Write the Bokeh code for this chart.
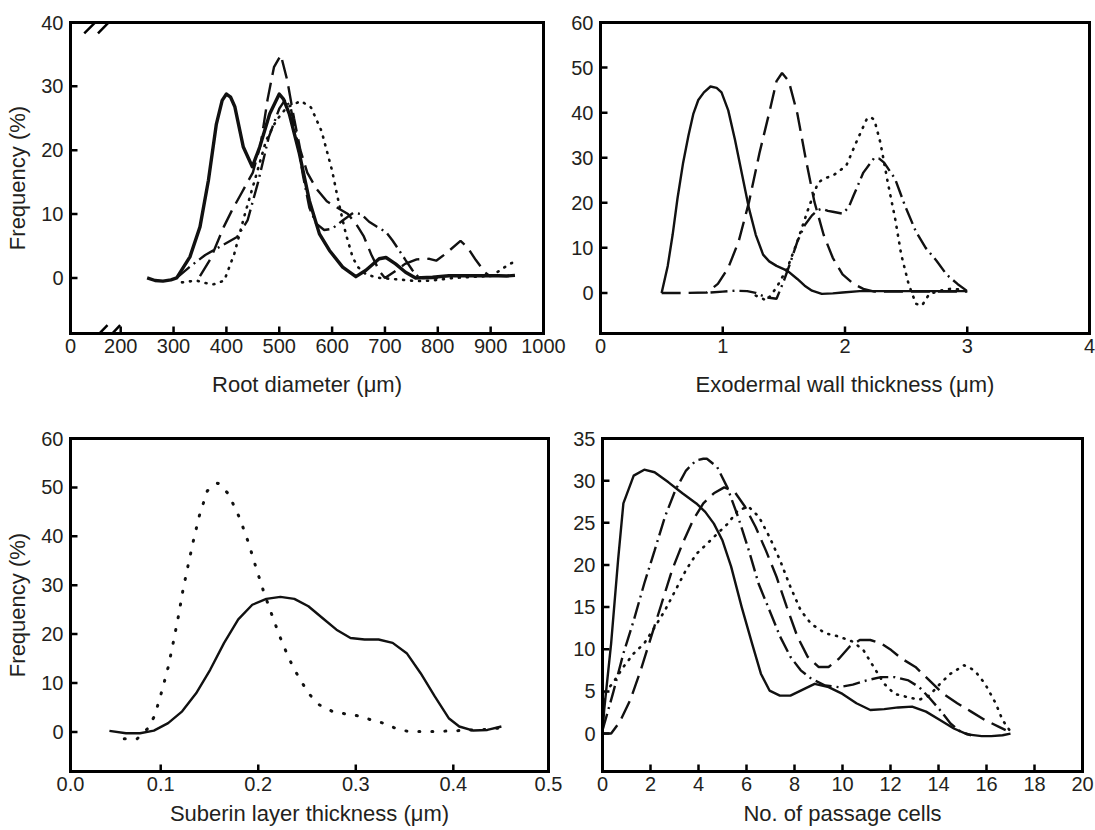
from bokeh.plotting import figure
from bokeh.layouts import row, column
from bokeh.models import Range1d, FixedTicker, CustomJSTickFormatter, Arrow, LinearAxis
from bokeh.embed import file_html
from bokeh.resources import INLINE

# ---------------- Panel 1: root diameter ----------------
rd_x_ticks = [105, 200, 300, 400, 500, 600, 700, 800, 900, 1000]
rd_x_labels = ["0", "200", "300", "400", "500", "600", "700", "800", "900", "1000"]
rd_y_ticks = [0, 10, 20, 30, 40]

rd_solid_x = [250, 265, 280, 295, 306, 331, 350, 366, 381, 392, 400, 408, 416, 432, 449, 463, 482, 500, 508, 519,
              538, 557, 576, 595, 620, 645, 664, 689, 702, 720, 739, 758, 790, 821, 884, 915, 930, 946]
rd_solid_y = [0, -0.4, -0.5, -0.3, 0, 3.3, 8, 15.3, 24.1, 27.8, 28.8, 28.3, 26.8, 20.5, 17.4, 20.5, 25.7, 28.8, 28, 25.7,
              19.5, 12.1, 6.9, 4.3, 1.7, 0.2, 1.2, 3.0, 3.2, 2.2, 0.9, 0, 0.1, 0.35, 0.35, 0.35, 0.3, 0.4]

rd_dash_x = [350, 370, 395, 410, 430, 450, 465, 478, 490, 503, 515, 528, 540, 553, 570, 590, 610, 630, 645, 660,
             675, 690, 700, 720, 738, 760, 784, 797, 815, 843, 856, 872, 889, 900]
rd_dash_y = [0.3, 3, 8, 10.5, 13.5, 16.5, 21, 28, 33, 34.9, 31, 25, 20, 16.5, 14, 12, 11, 10, 8.5, 6.5,
             3.5, 1, 0, 1.1, 2.2, 2.9, 3, 2.7, 3.8, 5.8, 4.8, 2.8, 0.9, 0.2]

rd_dashdot_x = [306, 330, 360, 390, 420, 440, 460, 480, 500, 512, 522, 533, 545, 557, 570, 585, 600, 620, 640, 655,
                670, 685, 702, 714, 727, 739, 752, 765, 800]
rd_dashdot_y = [0, 1.7, 3.6, 5, 6.4, 9, 15, 22, 26.5, 28, 26.5, 22, 16, 11, 8.5, 7.5, 7.7, 9, 10.2, 10,
                8.8, 8, 7.2, 5.9, 4.3, 2.8, 1.2, 0, 0]

rd_dot_x = [316, 343, 360, 376, 396, 415, 435, 455, 475, 494, 514, 541, 560, 580, 600, 613, 626, 639, 649, 665,
            690, 720, 760, 790, 830, 870, 900, 916, 936, 945]
rd_dot_y = [-0.7, -0.4, -0.8, -1.0, -0.4, 3.8, 10, 15.7, 21.5, 24.6, 26.7, 27.7, 26.7, 23, 16.8, 11.6, 6.9, 3.2, 1.7, 0.5,
            0, -0.2, -0.5, -0.4, 0, 0.2, 0.3, 1.1, 2.2, 2.5]

# axis-break marks (x start, y start, x end, y end)
rd_break_x0 = [135, 160, 131, 157]
rd_break_y0 = [-10.8, -10.8, 38.3, 38.3]
rd_break_x1 = [175, 199, 171, 196]
rd_break_y1 = [-7.4, -7.4, 41.6, 41.6]

# ---------------- Panel 2: exodermal wall thickness ----------------
ex_x_ticks = [0, 1, 2, 3, 4]
ex_x_labels = ["0", "1", "2", "3", "4"]
ex_y_ticks = [0, 10, 20, 30, 40, 50, 60]

ex_solid_x = [0.5, 0.55, 0.59, 0.63, 0.676, 0.72, 0.76, 0.8, 0.846, 0.9, 0.95, 0.99, 1.045, 1.1, 1.16, 1.215, 1.27,
              1.33, 1.38, 1.44, 1.53, 1.61, 1.67, 1.73, 1.81, 1.9, 1.98, 2.12, 2.41, 2.69, 3.0]
ex_solid_y = [0, 6, 12.9, 21, 28.9, 35, 39.8, 42.8, 44.5, 45.8, 45.5, 44.5, 40.5, 34, 26, 18.7, 12.9,
              8.5, 7, 6, 4.9, 3.1, 1.6, 0.5, -0.2, -0.1, 0.1, 0.4, 0.4, 0.4, 0.4]

ex_dash_x = [0.5, 0.7, 0.87, 0.96, 1.045, 1.13, 1.215, 1.3, 1.385, 1.44, 1.485, 1.54, 1.61, 1.68, 1.75, 1.825, 1.9,
             1.98, 2.07, 2.15, 2.24, 2.4, 2.7, 3.0]
ex_dash_y = [0, 0, 0.1, 2, 5.6, 11.4, 20.2, 31, 40.5, 47, 48.8, 47, 39.8, 29.6, 20.2, 12.9, 7.8,
             4.1, 2, 0.9, 0.3, 0.3, 0.3, 0.3]

ex_dashdot_x = [0.9, 1.0, 1.1, 1.2, 1.27, 1.36, 1.44, 1.5, 1.55, 1.61, 1.67, 1.73, 1.78, 1.81, 1.86, 1.9, 1.98, 2.03,
                2.07, 2.15, 2.24, 2.28, 2.32, 2.41, 2.49, 2.58, 2.66, 2.75, 2.83, 2.92, 3.0]
ex_dashdot_y = [0.1, 0.3, 0.5, 0.4, 0, -1, -1.3, 2.7, 6.5, 11.4, 15, 17.2, 18.4, 18.7, 18.2, 18, 17.6, 19,
                21.6, 26.7, 30, 29.8, 28.9, 25.3, 19.4, 13.6, 10, 7.1, 4.1, 2, 0.4]

ex_dot_x = [1.27, 1.36, 1.44, 1.53, 1.61, 1.7, 1.78, 1.84, 1.9, 2.01, 2.09, 2.18, 2.21, 2.24, 2.29, 2.35, 2.41, 2.46,
            2.52, 2.58, 2.63, 2.69, 2.78, 2.86, 2.97]
ex_dot_y = [-0.6, -1.7, 1.2, 5.6, 11.4, 18.7, 24.5, 25.5, 26, 28.2, 33.3, 38.7, 39, 38.4, 33.3, 24.5, 16.5, 8.5,
            2, -2.4, -2.8, -0.2, 0.5, 0.9, 0.7]

# ---------------- Panel 3: suberin layer thickness ----------------
su_x_ticks = [0.0075, 0.1, 0.2, 0.3, 0.4, 0.4976]
su_x_labels = ["0.0", "0.1", "0.2", "0.3", "0.4", "0.5"]
su_y_ticks = [0, 10, 20, 30, 40, 50, 60]

su_dot_x = [0.0626, 0.0759, 0.087, 0.0939, 0.1014, 0.108, 0.1133, 0.1183, 0.1227, 0.128, 0.1335, 0.1396, 0.1478,
            0.1586, 0.1694, 0.181, 0.1903, 0.198, 0.206, 0.2151, 0.2248, 0.236, 0.2514, 0.2629, 0.2759, 0.2892,
            0.3018, 0.3151, 0.328, 0.3406, 0.354, 0.3799, 0.4061, 0.433, 0.4457]
su_dot_y = [-1.4, -1.4, 0.75, 3.35, 8.5, 13.5, 18.7, 23.8, 28.9, 34, 39.1, 44.2, 49.3,
            50.9, 48.7, 43.7, 38.5, 33.4, 28.4, 23.3, 18.1, 13.1, 7.9, 5.5, 4.2, 3.7,
            3.3, 2.5, 1.8, 0.75, 0.07, 0.07, 0.27, 0.5, 0.75]

su_solid_x = [0.0474, 0.0644, 0.0788, 0.093, 0.1076, 0.122, 0.1363, 0.1507, 0.165, 0.1795, 0.1939, 0.2083, 0.2227,
              0.237, 0.2514, 0.2658, 0.2802, 0.2946, 0.309, 0.3234, 0.3378, 0.3522, 0.3665, 0.381, 0.3953, 0.4061,
              0.4205, 0.4349, 0.4493]
su_solid_y = [0.2, -0.27, -0.27, 0.27, 1.8, 4.2, 7.9, 12.7, 18.2, 23, 26, 27.2, 27.6,
              27.2, 25.7, 23.3, 20.9, 19.2, 18.9, 18.9, 18.2, 16.1, 12, 7.25, 2.8, 1.1,
              0.27, 0.4, 1.1]

# ---------------- Panel 4: passage cells ----------------
pc_x_ticks = [0, 2, 4, 6, 8, 10, 12, 14, 16, 18, 20]
pc_x_labels = [str(v) for v in pc_x_ticks]
pc_y_ticks = [0, 5, 10, 15, 20, 25, 30, 35]

pc_solid_x = [0, 0.07, 0.36, 0.65, 0.87, 1.3, 1.74, 2.17, 2.75, 3.33, 3.91, 4.28, 4.64, 5.0, 5.36, 5.8, 6.23, 6.6,
              6.96, 7.39, 7.83, 8.26, 8.84, 9.42, 10, 10.58, 11.16, 11.74, 12.32, 12.9, 13.48, 14.06, 14.64, 15.2,
              15.8, 16.2, 16.67, 17.0]
pc_solid_y = [0, 2.8, 10.7, 20.6, 27.3, 30.6, 31.3, 31, 29.8, 28.5, 27.3, 26.3, 24.9, 22.9, 19.8, 15, 10.7, 7.1,
              5.1, 4.5, 4.5, 5.1, 5.9, 5.5, 4.7, 3.6, 2.8, 2.9, 3.1, 3.2, 2.6, 1.6, 0.6, -0.1,
              -0.3, -0.3, -0.2, 0]

pc_dash_x = [0, 0.36, 0.72, 1.16, 1.59, 2.03, 2.46, 2.9, 3.33, 3.77, 4.2, 4.64, 5.07, 5.5, 5.94, 6.38, 6.81, 7.25,
             7.68, 8.12, 8.55, 9.0, 9.42, 9.86, 10.29, 10.72, 11.16, 11.6, 12.03, 12.46, 13.04, 13.62, 14.2, 14.78,
             15.36, 15.94, 16.52, 16.8]
pc_dash_y = [0, 0, 1.4, 4, 7.5, 11.5, 15.4, 19.4, 22.5, 25.3, 27.3, 28.5, 29.2, 28.7, 26.9, 24.5, 21.7, 18.6,
             15, 11.5, 9.1, 7.9, 7.9, 8.9, 10.3, 11.1, 11.1, 10.7, 9.9, 8.9, 7.9, 6.3, 4.7, 3.6,
             2.6, 1.6, 0.8, 0.4]

pc_dashdot_x = [0, 0.43, 0.87, 1.3, 1.74, 2.17, 2.6, 3.04, 3.48, 3.9, 4.2, 4.35, 4.78, 5.2, 5.65, 6.1, 6.5, 6.96,
                7.4, 7.83, 8.26, 8.7, 9.28, 9.86, 10.43, 11, 11.6, 12.17, 12.75, 13.2, 13.6, 14.06, 14.5, 14.93,
                15.36]
pc_dashdot_y = [0.4, 4.7, 9.5, 13.4, 17.8, 21.7, 25.7, 28.9, 31.2, 32.4, 32.6, 32.6, 31.6, 29.2, 25.7, 21.7, 17.8,
                14.6, 11.5, 9.1, 7.5, 6.5, 5.7, 5.5, 5.8, 6.3, 6.7, 6.7, 6.3, 5.5, 4.3, 2.8, 1.2, 0.2,
                -0.2]

pc_dot_x = [0, 0.14, 0.5, 0.87, 1.3, 1.74, 2.17, 2.6, 3.04, 3.48, 3.91, 4.35, 4.78, 5.22, 5.65, 6.09, 6.52, 6.96,
            7.39, 7.83, 8.26, 8.7, 9.28, 9.86, 10.43, 10.87, 11.3, 11.74, 12.17, 12.75, 13.19, 13.62, 14.06, 14.5,
            15.07, 15.5, 15.94, 16.38, 16.67, 16.96]
pc_dot_y = [3, 4.9, 6.3, 7.9, 9.5, 10.7, 12.6, 14.6, 17, 19.4, 21.3, 22.5, 23.7, 24.9, 26.5, 26.9, 25.7, 23.3,
            20.6, 17.4, 14.6, 13, 11.9, 11.5, 10.9, 9.9, 7.9, 5.9, 4.7, 4.3, 4, 4.5, 5.9, 7.1,
            8.1, 7.5, 5.9, 3.6, 1.6, 0.4]

# ---------------- styling ----------------
FONT = "Liberation Sans"
TXT = "#231f20"
INK = "#111111"
DASH = "19 8"
DASHDOT = "17 5 2 5"
DOT = "1 7"
TICK_PX = 7


def fmt(tick_values, tick_texts):
    return CustomJSTickFormatter(args=dict(tvals=tick_values, ttexts=tick_texts), code="""
        for (let i = 0; i < tvals.length; i++) {
            if (Math.abs(tvals[i] - tick) < 1e-6 * Math.max(1, Math.abs(tick))) { return ttexts[i]; }
        }
        return "";
    """)


def frame_axis():
    return LinearAxis(ticker=FixedTicker(ticks=[]), major_label_standoff=0,
                      major_tick_in=0, major_tick_out=0, minor_tick_in=0, minor_tick_out=0,
                      axis_line_width=3, axis_line_color="black", axis_line_cap="square")


def make(xr, yr, borders, frame_w, frame_h, xticks, xlabels, yticks, xlabel, ylabel, xstand):
    left, right, top, bottom = borders
    p = figure(width=left + frame_w + right, height=top + frame_h + bottom,
               x_range=Range1d(*xr), y_range=Range1d(*yr),
               output_backend="svg", toolbar_location=None,
               min_border_left=left, min_border_right=right, min_border_top=top, min_border_bottom=bottom)
    p.xgrid.visible = False
    p.ygrid.visible = False
    p.outline_line_color = None
    p.background_fill_color = "white"
    p.border_fill_color = "white"
    for ax in (p.xaxis[0], p.yaxis[0]):
        ax.axis_line_color = "black"
        ax.axis_line_width = 3
        ax.axis_line_cap = "square"
        ax.major_tick_in = 0
        ax.major_tick_out = 0
        ax.minor_tick_line_color = None
        ax.major_label_text_font = FONT
        ax.major_label_text_font_size = "20px"
        ax.major_label_text_color = TXT
        ax.axis_label_text_font = FONT
        ax.axis_label_text_font_size = "22px"
        ax.axis_label_text_font_style = "normal"
        ax.axis_label_text_color = TXT
    p.xaxis[0].ticker = FixedTicker(ticks=xticks)
    p.xaxis[0].formatter = fmt(xticks, xlabels)
    p.xaxis[0].major_label_standoff = 5
    p.xaxis[0].axis_label = xlabel
    p.xaxis[0].axis_label_standoff = xstand
    p.yaxis[0].ticker = FixedTicker(ticks=yticks)
    p.yaxis[0].major_label_standoff = 7
    if ylabel:
        p.yaxis[0].axis_label = ylabel
        p.yaxis[0].axis_label_standoff = 8
    p.add_layout(frame_axis(), "above")
    p.add_layout(frame_axis(), "right")
    # inward tick marks drawn as short segments from the frame edge
    dy = TICK_PX * (yr[1] - yr[0]) / frame_h
    dx = TICK_PX * (xr[1] - xr[0]) / frame_w
    xin = [t for t in xticks if xr[0] < t < xr[1]]
    yin = [t for t in yticks if yr[0] < t < yr[1]]
    p.segment(x0=xin, y0=[yr[0]] * len(xin), x1=xin, y1=[yr[0] + dy] * len(xin),
              line_color="black", line_width=2.5)
    p.segment(x0=[xr[0]] * len(yin), y0=yin, x1=[xr[0] + dx] * len(yin), y1=yin,
              line_color="black", line_width=2.5)
    return p


# row 1
p1 = make((105, 1000), (-8.7, 40), (70, 25, 22, 70), 473, 311,
          rd_x_ticks, rd_x_labels, rd_y_ticks, "Root diameter (\u03bcm)", "Frequency (%)", 16)
p1.line(rd_solid_x, rd_solid_y, line_color=INK, line_width=3.4, line_join="round")
p1.line(rd_dash_x, rd_dash_y, line_color=INK, line_width=2.4, line_dash=DASH)
p1.line(rd_dashdot_x, rd_dashdot_y, line_color=INK, line_width=2.4, line_dash=DASHDOT)
p1.line(rd_dot_x, rd_dot_y, line_color=INK, line_width=2.6, line_dash=DOT, line_cap="round")
for i in range(len(rd_break_x0)):
    p1.add_layout(Arrow(end=None, x_start=rd_break_x0[i], y_start=rd_break_y0[i],
                        x_end=rd_break_x1[i], y_end=rd_break_y1[i], line_width=2.5, line_color="black"))

p2 = make((0, 4), (-9, 60), (32, 6, 22, 70), 489, 311,
          ex_x_ticks, ex_x_labels, ex_y_ticks, "Exodermal wall thickness (\u03bcm)", None, 16)
p2.line(ex_solid_x, ex_solid_y, line_color=INK, line_width=2.4, line_join="round")
p2.line(ex_dash_x, ex_dash_y, line_color=INK, line_width=2.4, line_dash=DASH)
p2.line(ex_dashdot_x, ex_dashdot_y, line_color=INK, line_width=2.4, line_dash=DASHDOT)
p2.line(ex_dot_x, ex_dot_y, line_color=INK, line_width=2.6, line_dash=DOT, line_cap="round")

# row 2
p3 = make((0.0075, 0.4976), (-8.1, 60), (70, 22, 35, 59), 478, 333,
          su_x_ticks, su_x_labels, su_y_ticks, "Suberin layer thickness (\u03bcm)", "Frequency (%)", 7)
p3.line(su_solid_x, su_solid_y, line_color=INK, line_width=2.4, line_join="round")
p3.line(su_dot_x, su_dot_y, line_color=INK, line_width=3, line_dash="1 12", line_cap="round")

p4 = make((0, 20), (-4.5, 35), (30, 13, 35, 59), 482, 333,
          pc_x_ticks, pc_x_labels, pc_y_ticks, "No. of passage cells", None, 7)
p4.line(pc_solid_x, pc_solid_y, line_color=INK, line_width=2.4, line_join="round")
p4.line(pc_dash_x, pc_dash_y, line_color=INK, line_width=2.4, line_dash=DASH)
p4.line(pc_dashdot_x, pc_dashdot_y, line_color=INK, line_width=2.4, line_dash=DASHDOT)
p4.line(pc_dot_x, pc_dot_y, line_color=INK, line_width=2.6, line_dash=DOT, line_cap="round")

layout = column(row(p1, p2, spacing=0), row(p3, p4, spacing=0), spacing=0)
open("out.html", "w").write(file_html(layout, INLINE))
